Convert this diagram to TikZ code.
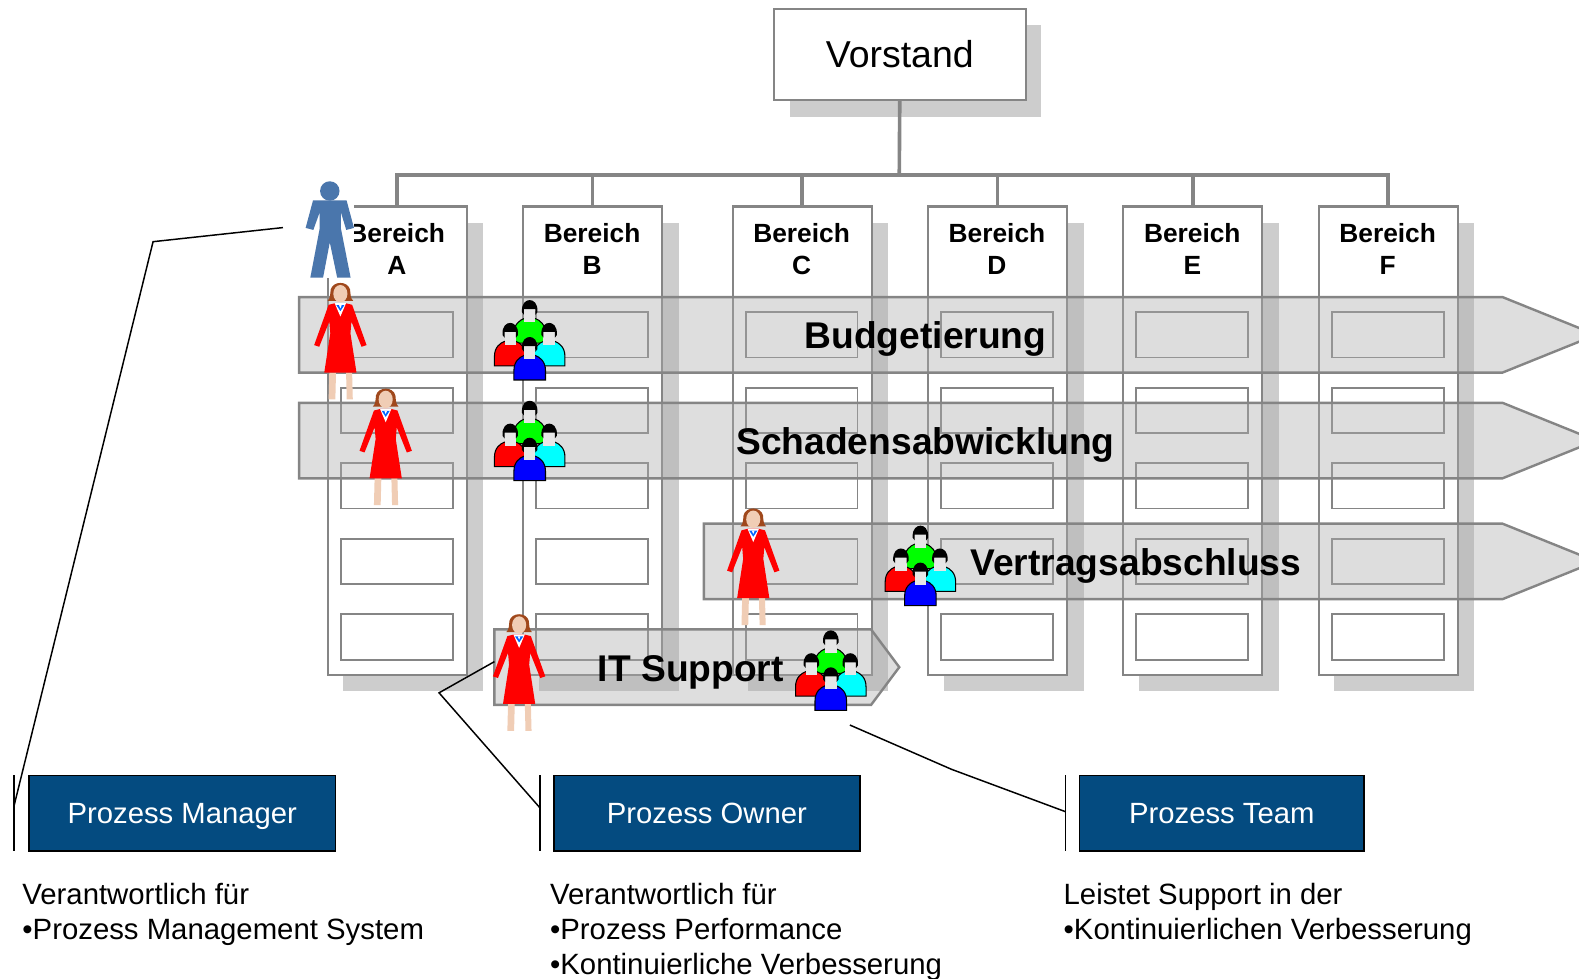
\documentclass[tikz,border=0pt]{standalone}
\usepackage{fontspec}
\setmainfont{Liberation Sans}
\definecolor{linegray}{HTML}{858585}
\definecolor{shadowgray}{HTML}{CDCDCD}
\definecolor{bandgray}{gray}{0.675}
\definecolor{navy}{HTML}{044B80}
\definecolor{skin}{HTML}{F0CDB5}
\definecolor{hair}{HTML}{A0481C}
\definecolor{manblue}{HTML}{4A76AC}
\definecolor{tmgreen}{HTML}{00FF00}
\definecolor{tmred}{HTML}{FF0000}
\definecolor{tmcyan}{HTML}{00FFFF}
\definecolor{tmblue}{HTML}{0000FF}
\definecolor{tmface}{HTML}{E6E6E6}
\tikzset{
  shadowbox/.style={fill=shadowgray,draw=none},
  column/.style={draw=linegray,line width=1.6pt,fill=white,outer sep=0pt,minimum width=103.5pt,minimum height=348.75pt,anchor=north west,inner sep=0pt},
  inner box/.style={draw=linegray,line width=1.4pt},
  bus/.style={draw=linegray,line width=2.7pt},
  band/.style={draw=linegray,line width=1.8pt,fill=bandgray,fill opacity=.4,line join=miter},
  bandtext/.style={font=\fontsize{27.7}{30}\selectfont\bfseries,text=black,text height=19.8pt,text depth=0pt,inner sep=0pt},
  head/.style={font=\fontsize{19.6}{24}\selectfont\bfseries,align=center},
  rolebox/.style={draw=black,line width=1.1pt,fill=navy,text=white,font=\fontsize{21.8}{26}\selectfont,inner sep=0pt,outer sep=0pt,text height=14.8pt,text depth=0pt,minimum height=56.25pt,anchor=north west},
  callout/.style={draw=black,line width=1.1pt},
  desc/.style={font=\fontsize{21.85}{26.1}\selectfont,align=left,anchor=north west,inner sep=0pt},
  pics/woman/.style={code={
    \begin{scope}[x=.25pt,y=-.25pt]
      \fill[skin] (-33,267) -- (-13,267) -- (-15,347) -- (-35,347) -- cycle;
      \fill[skin] (17,267) -- (35,267) -- (37,347) -- (19,347) -- cycle;
      \fill[hair] (-38,53) .. controls (-30,46) and (-30,32) .. (-29,20) .. controls (-22,-7) and (22,-7) .. (29,20) .. controls (30,32) and (30,46) .. (38,53) -- cycle;
      \fill[skin] (0,32) ellipse [x radius=21,y radius=26];
      \fill[red] (-15,60) -- (15,60) -- (35,65) -- (78,185) -- (63,190) -- (33,115) -- (30,150) -- (48,267) -- (-48,267) -- (-30,150) -- (-33,115) -- (-63,190) -- (-78,185) -- (-35,65) -- cycle;
      \fill[white] (-17,60) -- (17,60) -- (0,100) -- cycle;
      \fill[blue!60!cyan] (-12,66) -- (12,66) -- (0,84) -- cycle;
      \fill[white] (-4,66) -- (4,66) -- (0,76) -- cycle;
    \end{scope}}},
  pics/man/.style={code={
    \begin{scope}[x=.25pt,y=-.25pt]
      \fill[white] (-70,0) rectangle (72,287);
      \fill[manblue] (0,29) circle [radius=29];
      \fill[manblue] (-50,57) -- (50,57) -- (72,139) -- (49,145) -- (33,92) -- (33,140) -- (62,287) -- (22,287) -- (0,182) -- (-20,287) -- (-58,287) -- (-30,140) -- (-30,92) -- (-49,145) -- (-72,139) -- cycle;
    \end{scope}}},
  pics/member/.style={code={
    \draw[draw=black,line width=.8pt,fill=#1] (-47,128) -- (-47,100) .. controls (-47,72) and (-30,60) .. (-17,55) -- (17,55) .. controls (30,60) and (47,72) .. (47,100) -- (47,128) -- cycle;
    \fill[tmface] (-17,26) rectangle (17,66);
    \fill[black] (-23,36) .. controls (-25,8) and (-10,0) .. (0,0) .. controls (10,0) and (25,8) .. (23,36) -- (17,44) -- (17,27) -- (-17,27) -- (-17,44) -- cycle;
  }},
  pics/team/.style={code={
    \begin{scope}[x=.25pt,y=-.25pt]
      \pic at (0,0) {member={tmgreen}};
      \pic at (-58,68) {member={tmred}};
      \pic at (58,68) {member={tmcyan}};
      \pic at (0,110) {member={tmblue}};
    \end{scope}}}
}
\newcommand{\innerboxes}[1]{%
  \foreach \yy in {310,385,460,535,610}{\draw[inner box] (#1+13.5,\yy) rectangle (#1+124.5,\yy+45);}}
\begin{document}
\begin{tikzpicture}[x=.75pt,y=-.75pt]
\useasboundingbox (0,0) rectangle (1568,972.1);
\clip (0,0) rectangle (1568,972.1);
% shadows
\fill[shadowgray] (784,25) rectangle (1034,116);
\foreach \xx in {325,519,727,921,1115,1309}{\fill[shadowgray] (\xx+16,221) rectangle (\xx+155,686);}
% org chart
\node[draw=linegray,line width=1.6pt,fill=white,outer sep=0pt,minimum width=187.5pt,minimum height=67.5pt,anchor=north west,font=\fontsize{27.9}{32}\selectfont,text height=20pt,text depth=0pt] (vorstand) at (768.5,9) {Vorstand};
\foreach \nm/\xx in {A/325.5,B/519.5,C/727.5,D/921.5,E/1115.5,F/1309.5}{
  \node[column] (col\nm) at (\xx,205) {};
  \innerboxes{\xx-.5}
  \node[head] (lab\nm) at (\xx+68.5,247.5) {Bereich\\\nm};
}
\coordinate (busjoint) at (893,174);
\draw[bus] (vorstand.south) -- (busjoint);
\foreach \nm in {A,B,C,D,E,F}{\draw[bus] (busjoint) -| (col\nm.north);}
% process bands
\draw[band] (297,295) -- (1492,295) -- (1585,332.5) -- (1492,370) -- (297,370) -- cycle;
\draw[band] (297,400) -- (1492,400) -- (1585,437.5) -- (1492,475) -- (297,475) -- cycle;
\draw[band] (699,520) -- (1492,520) -- (1585,557.5) -- (1492,595) -- (699,595) -- cycle;
\draw[band] (491,625) -- (865,625) -- (893,662.5) -- (865,700) -- (491,700) -- cycle;
\node[bandtext] (budget) at (919,333) {Budgetierung};
\node[bandtext] (schaden) at (919,438) {Schadensabwicklung};
\node[bandtext] (vertrag) at (1128,558) {Vertragsabschluss};
\node[bandtext] (itsup) at (686,664) {IT Support};
% people
\pic at (327.5,180) {man};
\pic at (338,281) {woman};
\pic at (383,386) {woman};
\pic at (748,505) {woman};
\pic at (515.5,610) {woman};
\pic at (526,298) {team};
\pic at (526,398) {team};
\pic at (914,522) {team};
\pic at (825,626) {team};
% role boxes
\node[rolebox,minimum width=228pt] (pm) at (29,770) {Prozess Manager};
\node[rolebox,minimum width=228pt] (po) at (550,770) {Prozess Owner};
\node[rolebox,minimum width=212pt] (pt) at (1072,770) {Prozess Team};
% callouts
\coordinate (pmtop) at (14,770); \coordinate (pmbot) at (14,845); \coordinate (pmjoin) at (14,800);
\coordinate (pmbend) at (152,240); \coordinate (pmend) at (281,226);
\coordinate (potop) at (536,770); \coordinate (pobot) at (536,845); \coordinate (pojoin) at (536,802);
\coordinate (pobend) at (436,688); \coordinate (poend) at (491,657);
\coordinate (pttop) at (1058,770); \coordinate (ptbot) at (1058,845); \coordinate (ptjoin) at (1058,806);
\coordinate (ptbend) at (945,764); \coordinate (ptend) at (844,720);
\draw[callout] (pmtop) -- (pmbot);
\draw[callout] (potop) -- (pobot);
\draw[callout] (pttop) -- (ptbot);
\draw[callout] (pmjoin) -- (pmbend) -- (pmend);
\draw[callout] (pojoin) -- (pobend) -- (poend);
\draw[callout] (ptjoin) -- (ptbend) -- (ptend);
% descriptions
\node[desc] (dm) at (22,877) {Verantwortlich für\\•Prozess Management System};
\node[desc] (do) at (546,877) {Verantwortlich für\\•Prozess Performance\\•Kontinuierliche Verbesserung};
\node[desc] (dt) at (1056,877) {Leistet Support in der\\•Kontinuierlichen Verbesserung};
\end{tikzpicture}
\end{document}
